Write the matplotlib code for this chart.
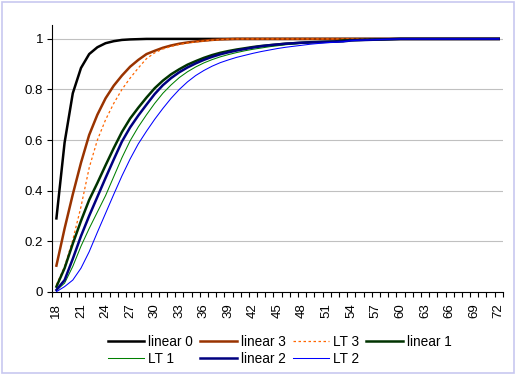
import matplotlib
matplotlib.use('Agg')
import matplotlib.pyplot as plt
from matplotlib.patches import Rectangle
import numpy as np

plt.rcParams['font.family'] = ['Liberation Sans', 'DejaVu Sans']

ages = list(range(18, 73))
tick_ages = ages[::3]
y_ticks = [0, 0.2, 0.4, 0.6, 0.8, 1]
y_labels = ['0', '0.2', '0.4', '0.6', '0.8', '1']

# values, one per age 18..72
linear0 = [0.29, 0.59, 0.785, 0.885, 0.94, 0.967, 0.983, 0.991, 0.996, 0.998,
           0.999, 1, 1, 1, 1, 1, 1, 1, 1, 1,
           1, 1, 1, 1, 1, 1, 1, 1, 1, 1,
           1, 1, 1, 1, 1, 1, 1, 1, 1, 1,
           1, 1, 1, 1, 1, 1, 1, 1, 1, 1,
           1, 1, 1, 1, 1]
linear3 = [0.103, 0.25, 0.385, 0.51, 0.62, 0.70, 0.765, 0.815, 0.855, 0.89,
           0.917, 0.94, 0.953, 0.965, 0.974, 0.981, 0.986, 0.99, 0.993, 0.996,
           0.998, 0.999, 1, 1, 1, 1, 1, 1, 1, 1,
           1, 1, 1, 1, 1, 1, 1, 1, 1, 1,
           1, 1, 1, 1, 1, 1, 1, 1, 1, 1,
           1, 1, 1, 1, 1]
lt3 = [0.027, 0.10, 0.205, 0.336, 0.49, 0.60, 0.68, 0.745, 0.80, 0.845,
       0.885, 0.922, 0.945, 0.96, 0.97, 0.978, 0.984, 0.988, 0.992, 0.995,
       0.997, 0.999, 1, 1, 1, 1, 1, 1, 1, 1,
       1, 1, 1, 1, 1, 1, 1, 1, 1, 1,
       1, 1, 1, 1, 1, 1, 1, 1, 1, 1,
       1, 1, 1, 1, 1]
linear1 = [0.02, 0.093, 0.19, 0.28, 0.363, 0.43, 0.50, 0.568, 0.632, 0.685,
           0.728, 0.768, 0.805, 0.835, 0.86, 0.88, 0.898, 0.912, 0.925, 0.936,
           0.945, 0.952, 0.958, 0.963, 0.968, 0.972, 0.975, 0.978, 0.981, 0.983,
           0.985, 0.987, 0.988, 0.989, 0.99, 0.994, 0.995, 0.996, 0.997, 0.998,
           0.998, 0.999, 1, 1, 1, 1, 1, 1, 1, 1,
           1, 1, 1, 1, 1]
lt1 = [0.005, 0.034, 0.10, 0.18, 0.25, 0.315, 0.38, 0.455, 0.53, 0.597,
       0.652, 0.70, 0.745, 0.785, 0.818, 0.847, 0.87, 0.889, 0.905, 0.918,
       0.929, 0.938, 0.946, 0.953, 0.959, 0.964, 0.969, 0.973, 0.977, 0.98,
       0.983, 0.985, 0.987, 0.988, 0.989, 0.99, 0.994, 0.995, 0.996, 0.997,
       0.998, 0.999, 1, 1, 1, 1, 1, 1, 1, 1,
       1, 1, 1, 1, 1]
linear2 = [0.007, 0.046, 0.13, 0.22, 0.30, 0.375, 0.45, 0.523, 0.594, 0.65,
           0.697, 0.74, 0.782, 0.817, 0.845, 0.868, 0.887, 0.903, 0.917, 0.929,
           0.939, 0.947, 0.954, 0.96, 0.966, 0.971, 0.975, 0.978, 0.981, 0.983,
           0.985, 0.986, 0.987, 0.988, 0.989, 0.99, 0.994, 0.995, 0.996, 0.997,
           0.998, 0.999, 1, 1, 1, 1, 1, 1, 1, 1,
           1, 1, 1, 1, 1]
lt2 = [0.0, 0.02, 0.046, 0.093, 0.158, 0.235, 0.31, 0.385, 0.458, 0.525,
       0.585, 0.635, 0.682, 0.725, 0.765, 0.80, 0.83, 0.855, 0.875, 0.892,
       0.906, 0.917, 0.927, 0.935, 0.943, 0.95, 0.956, 0.962, 0.967, 0.971,
       0.975, 0.979, 0.982, 0.985, 0.987, 0.989, 0.993, 0.995, 0.996, 0.997,
       0.998, 0.999, 1, 1, 1, 1, 1, 1, 1, 1,
       1, 1, 1, 1, 1]

series = [
    ('linear 0', linear0, '#000000', 1.8, '-'),
    ('linear 3', linear3, '#993300', 1.8, '-'),
    ('LT 3', lt3, '#FF6600', 0.9, (0, (2, 2))),
    ('linear 1', linear1, '#003300', 1.8, '-'),
    ('LT 1', lt1, '#008000', 0.75, '-'),
    ('linear 2', linear2, '#000080', 1.8, '-'),
    ('LT 2', lt2, '#0000FF', 0.75, '-'),
]

fig = plt.figure(figsize=(5.2, 3.8), dpi=100)
ax = fig.add_axes([0.1006, 0.2324, 0.8664, 0.7018])

x = np.arange(len(ages))
handles = []
for name, vals, col, lw, ls in series:
    h, = ax.plot(x, vals, color=col, lw=lw, ls=ls, label=name)
    handles.append(h)

ax.set_xlim(-0.5, len(ages) - 0.5)
ax.set_ylim(0, 1.055)
ax.set_yticks(y_ticks)
ax.set_yticklabels(y_labels)
ax.yaxis.grid(True, color='#c0c0c0', lw=0.8)
ax.set_axisbelow(True)

ax.set_xticks(x[::3])
ax.set_xticklabels([str(a) for a in tick_ages], rotation=90)
ax.set_xticks(np.arange(len(ages) + 1) - 0.5, minor=True)
ax.tick_params(axis='x', which='major', length=0, pad=8, labelsize=9.5)
ax.tick_params(axis='x', which='minor', length=3.5, width=0.8, direction='out')
ax.tick_params(axis='y', length=3.5, width=0.8, pad=3, labelsize=9.5)

for s in ['top', 'right']:
    ax.spines[s].set_visible(False)
for s in ['left', 'bottom']:
    ax.spines[s].set_linewidth(0.8)

# row-major legend order for a 4-column legend
order = [0, 4, 1, 5, 2, 6, 3]
fig.legend([handles[i] for i in order], [series[i][0] for i in order],
           loc='center', bbox_to_anchor=(0.538, 0.078), ncol=4,
           frameon=False, fontsize=9.8, handlelength=2.7,
           handletextpad=0.3, columnspacing=0.5, labelspacing=0.25)

fig.patches.append(Rectangle((2 / 520, 7 / 380), 512 / 520, 371 / 380,
                             transform=fig.transFigure, fill=False,
                             edgecolor='#c8c8f0', lw=1.2))

fig.savefig('out.png', dpi=100)
